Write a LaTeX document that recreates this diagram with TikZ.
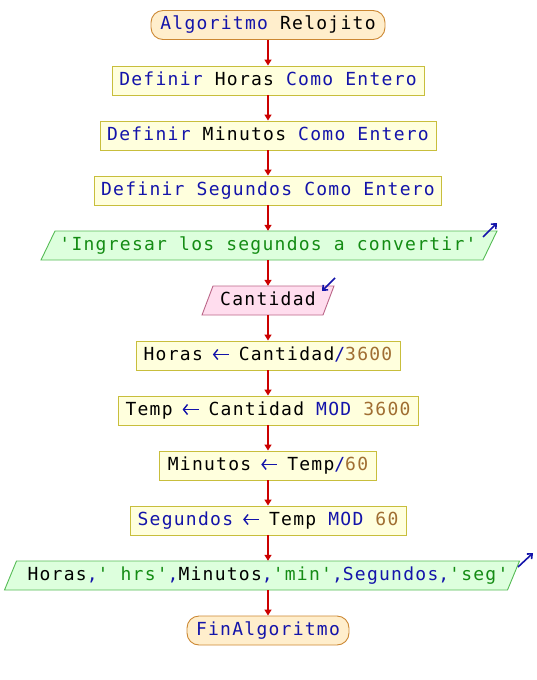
\documentclass[tikz,border=0pt]{standalone}
\usepackage{fontspec}
\setmonofont{DejaVu Sans Mono}[LetterSpace=7]
\usetikzlibrary{arrows.meta}
\definecolor{kw}{RGB}{20,20,170}
\definecolor{num}{RGB}{160,110,50}
\definecolor{str}{RGB}{20,140,20}
\definecolor{flowred}{RGB}{204,0,0}
\definecolor{procfill}{RGB}{255,255,221}
\definecolor{procdraw}{RGB}{200,190,60}
\definecolor{termfill}{RGB}{255,238,204}
\definecolor{termdraw}{RGB}{204,136,51}
\definecolor{outfill}{RGB}{221,255,221}
\definecolor{outdraw}{RGB}{85,187,85}
\definecolor{infill}{RGB}{255,221,238}
\definecolor{indraw}{RGB}{187,102,136}
\newcommand{\K}[1]{\textcolor{kw}{#1}}
\newcommand{\N}[1]{\textcolor{num}{#1}}
\newcommand{\Str}[1]{\textcolor{str}{#1}}
\newcommand{\Arr}{\makebox[36pt]{\tikz[baseline=0pt]\draw[kw, line width=1.4pt, {Straight Barb[length=4pt,width=10pt]}-] (0pt,5.5pt) -- (16pt,5.5pt);}}
\newcommand{\pgram}[5]{% cx, cy, halfwidth, slant, style
  \path[#5] ({#1-#3-#4/2},{#2+14.5}) -- ({#1+#3-#4/2},{#2+14.5}) -- ({#1+#3+#4/2},{#2-14.5}) -- ({#1-#3+#4/2},{#2-14.5}) -- cycle;}
\tikzset{
  base/.style={font=\ttfamily\fontsize{18}{20}\selectfont, minimum height=29pt, inner sep=0pt, text height=13pt, text depth=4pt},
  proc/.style={base, draw=procdraw, fill=procfill, line width=0.9pt},
  term/.style={base, draw=termdraw, fill=termfill, line width=0.9pt, rounded corners=12pt},
  io/.style={base},
  flow/.style={draw=flowred, line width=1.4pt, -{Triangle[length=6pt,width=7pt]}},
  ioarrow/.style={draw=kw, line width=1.6pt, -{Straight Barb[length=4pt,width=7pt]}}
}
\begin{document}
\begin{tikzpicture}[x=1pt,y=-1pt]
\useasboundingbox (0,0) rectangle (536,680);
\node[term, minimum width=234pt] (start) at (268,25) {\K{Algoritmo} Relojito};
\node[proc, minimum width=312pt] (d1) at (268,80.5) {\K{Definir} Horas \K{Como Entero}};
\node[proc, minimum width=336pt] (d2) at (268,135.5) {\K{Definir} Minutos \K{Como Entero}};
\node[proc, minimum width=347pt] (d3) at (268,190.5) {\K{Definir Segundos Como Entero}};
\pgram{269}{245.5}{221}{14}{draw=outdraw, fill=outfill, line width=0.9pt}
\node[io, minimum width=440pt] (o1) at (268,245.5) {\Str{'Ingresar los segundos a convertir'}};
\pgram{268}{300.5}{60.5}{11}{draw=indraw, fill=infill, line width=0.9pt}
\node[io, minimum width=110pt] (in1) at (268,300.5) {Cantidad};
\node[proc, minimum width=264pt] (a1) at (268,355.5) {Horas\Arr Cantidad\K{/}\N{3600}};
\node[proc, minimum width=300pt] (a2) at (268,410.5) {Temp\Arr Cantidad \K{MOD} \N{3600}};
\node[proc, minimum width=217pt] (a3) at (268,465.5) {Minutos\Arr Temp\K{/}\N{60}};
\node[proc, minimum width=276pt] (a4) at (268,520.5) {\K{Segundos}\Arr Temp \K{MOD} \N{60}};
\pgram{262}{575.5}{251.5}{12}{draw=outdraw, fill=outfill, line width=0.9pt}
\node[io, minimum width=500pt] (o2) at (268,575.5) {Horas\K{,}\Str{' hrs'}\K{,}Minutos\K{,}\Str{'min'}\K{,}\K{Segundos}\K{,}\Str{'seg'}};
\node[term, minimum width=162pt] (end) at (268,630.5) {\K{FinAlgoritmo}};
\draw[flow] (start.south) -- (d1.north);
\draw[flow] (d1.south) -- (d2.north);
\draw[flow] (d2.south) -- (d3.north);
\draw[flow] (d3.south) -- (o1.north);
\draw[flow] (o1.south) -- (in1.north);
\draw[flow] (in1.south) -- (a1.north);
\draw[flow] (a1.south) -- (a2.north);
\draw[flow] (a2.south) -- (a3.north);
\draw[flow] (a3.south) -- (a4.north);
\draw[flow] (a4.south) -- (o2.north);
\draw[flow] (o2.south) -- (end.north);
\coordinate (o1a) at (483,237);
\coordinate (o1b) at (497,223);
\draw[ioarrow] (o1a) -- (o1b);
\coordinate (in1a) at (335,278);
\coordinate (in1b) at (322,291);
\draw[ioarrow] (in1a) -- (in1b);
\coordinate (o2a) at (518,567);
\coordinate (o2b) at (533,553);
\draw[ioarrow] (o2a) -- (o2b);
\end{tikzpicture}
\end{document}
